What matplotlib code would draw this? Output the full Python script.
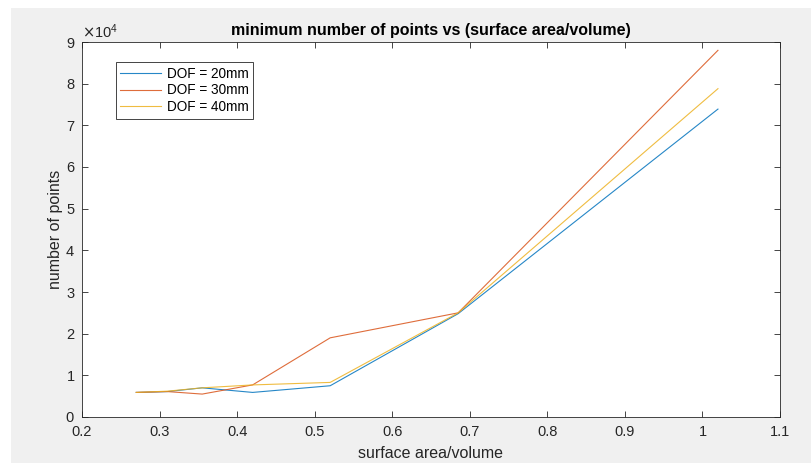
import numpy as np
import matplotlib
matplotlib.use('Agg')
import matplotlib.pyplot as plt
from matplotlib.patches import Rectangle
from matplotlib.ticker import ScalarFormatter, FuncFormatter

# %% data
sav = [0.27, 0.31, 0.355, 0.42, 0.52, 0.685, 1.02]  # surface area/volume
dof_20 = [5900, 6100, 7000, 5900, 7500, 24800, 73900]
dof_30 = [5900, 6100, 5500, 7700, 19000, 25000, 88000]
dof_40 = [5900, 6200, 7000, 7700, 8300, 25000, 78800]
labels = ['DOF = 20mm', 'DOF = 30mm', 'DOF = 40mm']
colors = ['#0072BD', '#D95319', '#EDB120']  # matlab defaults

# %% style
plt.rcParams['font.family'] = ['Liberation Sans', 'DejaVu Sans']
dark = '#262626'

fig = plt.figure(figsize=(8.11, 4.63), dpi=100, facecolor='white')
fig.patches.append(Rectangle((11 / 811, 0), 800 / 811, 455 / 463,
                             transform=fig.transFigure, facecolor='#f0f0f0',
                             edgecolor='none', zorder=-10))
ax = fig.add_axes([82 / 811, 46 / 463, 698 / 811, 375 / 463])
ax.set_facecolor('white')

for y, lab, c in zip([dof_20, dof_30, dof_40], labels, colors):
    ax.plot(sav, y, color=c, lw=0.8, alpha=0.85, label=lab)

ax.set_xlim(0.2, 1.1)
ax.set_ylim(0, 90000)
ax.set_xticks(np.arange(0.2, 1.15, 0.1))
ax.set_yticks(np.arange(0, 90001, 10000))
ax.xaxis.set_major_formatter(FuncFormatter(lambda v, p: '%g' % round(v, 2)))
fmt = ScalarFormatter(useMathText=True)
fmt.set_powerlimits((0, 0))
ax.yaxis.set_major_formatter(fmt)
ax.yaxis.get_offset_text().set_fontsize(10.5)
ax.yaxis.get_offset_text().set_color(dark)

ax.tick_params(direction='in', length=4.5, width=0.6, top=True, right=True,
               labelsize=10.5, colors=dark)
ax.tick_params(axis='x', pad=6)
ax.tick_params(axis='y', pad=5)
for sp in ax.spines.values():
    sp.set_color(dark)
    sp.set_linewidth(0.6)

ax.set_title('minimum number of points vs (surface area/volume)',
             fontsize=11.5, fontweight='bold', color='black', pad=5)
ax.set_xlabel('surface area/volume', fontsize=11.5, color=dark, labelpad=5)
ax.set_ylabel('number of points', fontsize=11.5, color=dark, labelpad=2)

leg = ax.legend(loc='upper left', bbox_to_anchor=(0.048, 0.947), fontsize=9.8,
                handlelength=3.0, fancybox=False, framealpha=1,
                edgecolor=dark, borderpad=0.35, labelspacing=0.2,
                handletextpad=0.4, borderaxespad=0)
leg.get_frame().set_linewidth(0.6)

fig.savefig('out.png', dpi=100, facecolor=fig.get_facecolor())
